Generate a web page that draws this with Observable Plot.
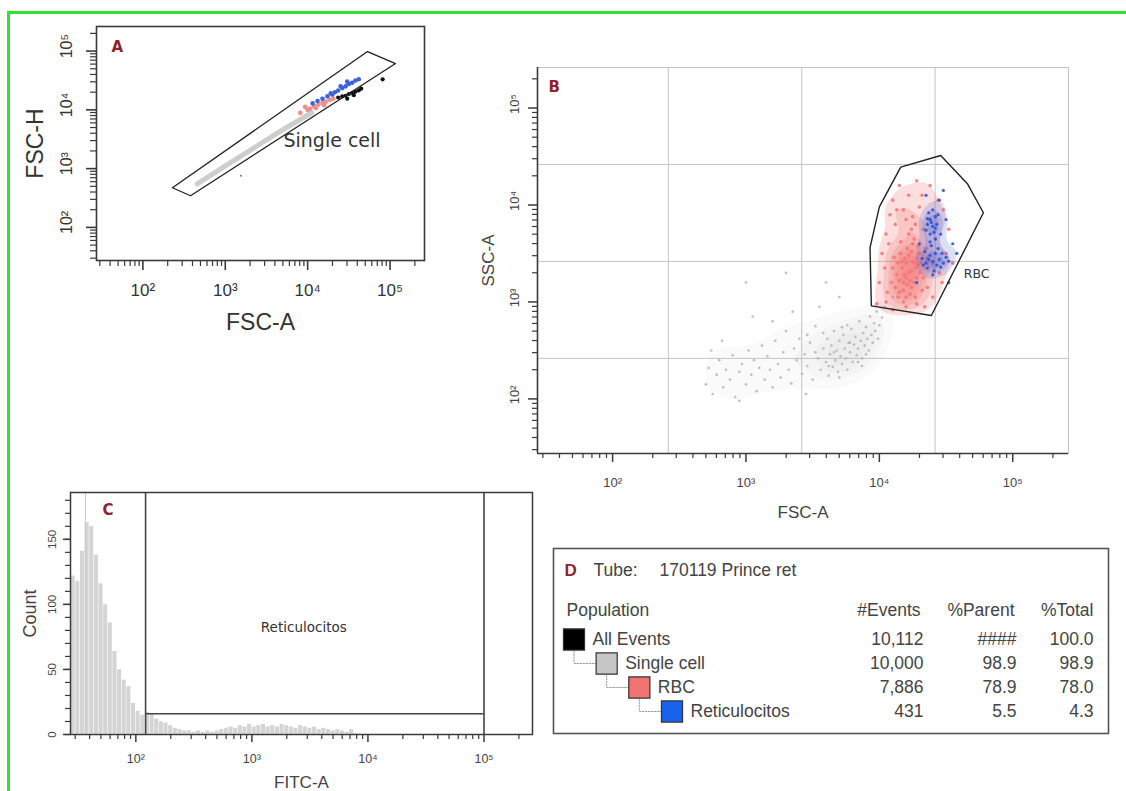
<!DOCTYPE html>
<html><head><meta charset="utf-8">
<script src="https://cdn.jsdelivr.net/npm/d3@7"></script>
<script src="https://cdn.jsdelivr.net/npm/@observablehq/plot@0.6"></script>
<style>
body{margin:0;background:#fff;}
#wrap{position:relative;width:1126px;height:791px;overflow:hidden;background:#fff;}
#wrap svg{position:absolute;left:0;top:0;}
#border{position:absolute;left:7px;top:11px;width:1200px;height:900px;border-left:3px solid #33e033;border-top:3px solid #33e033;}
</style></head><body><div id="wrap"><div id="border"></div></div>
<script>
// ---------- shared axis values (log10 units, FACS range up to 262143) ----------
const DOM = [1.437, 5.418];
const majorExp = [2, 3, 4, 5];
const gridB = [2.418, 3.418, 4.418];

// ---------- Panel A : FSC-A vs FSC-H (log10 values) ----------
const gateA = [[2.359,2.675],[2.578,2.539],[5.066,4.788],[4.726,4.992],[2.359,2.675]];
const bandA = [[2.66,2.74],[2.95,3.00],[3.30,3.31],[3.65,3.62],[3.95,3.87],[4.05,3.95]];
const redA = [[3.91,3.95],[3.97,4.05],[4.03,4.02],[4.08,4.06],[4.13,4.09],[4.18,4.12],[4.22,4.14],[4.27,4.17],[4.31,4.19],[4.00,4.00],[4.10,4.03],[4.20,4.08]];
const blueA = [[4.06,4.11],[4.12,4.15],[4.18,4.19],[4.24,4.23],[4.28,4.28],[4.33,4.30],[4.37,4.33],[4.42,4.37],[4.46,4.40],[4.50,4.44],[4.54,4.46],[4.58,4.50],[4.62,4.52],[4.40,4.40],[4.30,4.26],[4.48,4.48]];
const blackA = [[4.37,4.21],[4.42,4.23],[4.46,4.24],[4.50,4.27],[4.54,4.29],[4.58,4.31],[4.62,4.33],[4.65,4.36],[4.48,4.19],[4.56,4.25],[4.91,4.52]];
const strayA = [[3.19,2.88]];
const labelA = {text: "Single cell", x: 3.706, y: 3.476};

// ---------- Panel B : FSC-A vs SSC-A (log10 values) ----------
const gateB = [[4.16,4.39],[4.46,4.51],[4.66,4.22],[4.78,3.92],[4.39,2.86],[3.94,2.96],[3.93,3.56],[4.00,3.98],[4.16,4.39]];
const labelB = {text: "RBC", x: 4.633, y: 3.293};
const grayB = [
[2.70,2.15],[2.72,2.32],[2.75,2.05],[2.78,2.25],[2.80,2.40],[2.83,2.12],[2.85,2.30],[2.88,2.20],[2.90,2.45],[2.92,2.02],
[2.95,2.28],[2.97,2.36],[3.00,2.15],[3.02,2.50],[3.04,2.25],[3.06,2.40],[3.08,2.08],[3.10,2.32],[3.12,2.55],[3.14,2.20],
[3.16,2.44],[3.18,2.30],[3.20,2.12],[3.22,2.60],[3.24,2.36],[3.26,2.22],[3.28,2.48],[3.30,2.70],[3.32,2.30],[3.34,2.16],
[3.36,2.52],[3.38,2.40],[3.40,2.62],[3.42,2.26],[3.44,2.46],[3.46,2.34],[3.48,2.58],[3.50,2.20],[3.52,2.75],[3.54,2.42],
[3.56,2.30],[3.58,2.52],[3.60,2.38],[3.61,2.62],[3.62,2.24],[3.63,2.46],[3.64,2.55],[3.65,2.33],[3.66,2.70],[3.67,2.40],
[3.68,2.50],[3.69,2.28],[3.70,2.60],[3.71,2.44],[3.72,2.36],[3.73,2.66],[3.74,2.52],[3.75,2.42],[3.76,2.30],[3.77,2.58],
[3.78,2.48],[3.79,2.72],[3.80,2.38],[3.81,2.56],[3.82,2.64],[3.83,2.45],[3.84,2.52],[3.85,2.80],[3.86,2.60],[3.87,2.42],
[3.88,2.68],[3.89,2.55],[3.90,2.74],[3.91,2.62],[3.92,2.50],[3.93,2.85],[3.94,2.66],[3.95,2.58],[3.96,2.78],[3.97,2.70],
[3.98,2.90],[4.00,2.76],[4.02,2.84],[4.04,2.95],[3.99,2.62],[3.87,2.34],[3.76,2.76],[3.70,2.22],[3.58,2.68],[3.66,2.48],
[3.05,2.85],[3.35,2.90],[2.82,2.60],[3.45,2.05],[3.70,3.05],[3.20,2.80],[2.95,1.98],[4.10,3.05],[3.55,2.95],[2.74,2.50],
[3.00,3.20],[3.30,3.30],[3.60,3.20],[3.52,2.48],[3.62,2.34],[3.72,2.74],[3.78,2.58],[3.84,2.38],[3.90,2.46],[3.46,2.66]];
const redB = [
[4.15,3.10],[4.18,3.20],[4.20,3.05],[4.22,3.30],[4.24,3.15],[4.26,3.40],[4.28,3.25],[4.30,3.50],[4.17,3.35],[4.19,3.45],
[4.21,3.55],[4.23,3.22],[4.25,3.60],[4.27,3.05],[4.29,3.38],[4.13,3.28],[4.16,3.50],[4.20,3.40],[4.24,3.32],[4.28,3.45],
[4.12,3.15],[4.14,3.40],[4.18,3.00],[4.22,3.48],[4.26,3.20],[4.30,3.30],[4.32,3.12],[4.10,3.35],[4.20,3.25],[4.24,3.52],
[4.16,3.62],[4.22,3.70],[4.18,3.12],[4.26,3.65],[4.14,3.05],[4.28,2.98],[4.21,3.18],[4.19,3.28],[4.25,3.42],[4.23,3.08],
[4.17,3.42],[4.27,3.35],[4.15,3.22],[4.31,3.40],[4.11,3.46],[4.29,3.58],[4.09,3.20],[4.33,3.25],[4.20,2.95],[4.24,3.75],
[4.00,3.20],[4.02,3.50],[4.05,3.00],[4.05,3.70],[4.08,3.90],[4.10,4.05],[4.12,3.80],[4.15,4.20],[4.18,3.95],[4.22,4.10],
[4.25,3.88],[4.28,4.25],[4.30,3.98],[4.33,3.75],[4.35,3.55],[4.38,3.85],[4.40,3.40],[4.42,3.65],[4.45,3.30],[4.48,3.95],
[4.50,3.50],[4.36,3.15],[4.40,3.05],[4.34,2.95],[3.98,2.98],[4.04,3.35],[4.07,3.60],[4.10,2.92],[4.13,3.95],[4.20,3.85],
[4.27,3.80],[4.32,4.10],[4.38,4.20],[4.44,4.05],[4.52,3.75],[4.55,3.40],[4.47,3.20],[4.06,3.10],[4.36,3.45],[4.42,3.88]];
const blueB = [
[4.36,3.80],[4.38,3.85],[4.40,3.78],[4.42,3.88],[4.37,3.92],[4.41,3.72],[4.39,3.82],[4.43,3.80],[4.35,3.74],[4.40,3.95],
[4.38,3.70],[4.44,3.90],[4.36,3.86],[4.42,3.76],
[4.32,3.45],[4.35,3.40],[4.38,3.48],[4.40,3.42],[4.42,3.50],[4.45,3.44],[4.48,3.40],[4.50,3.46],[4.36,3.35],[4.41,3.32],
[4.44,3.55],[4.39,3.58],[4.46,3.36],[4.34,3.52],[4.43,3.38],[4.37,3.44],[4.47,3.50],[4.52,3.42],[4.40,3.28],[4.33,3.38],
[4.38,3.62],[4.42,3.65],[4.45,4.05],[4.50,3.85],[4.30,3.60],[4.55,3.60],[4.48,4.15],[4.35,4.10],[4.52,3.20],[4.28,3.20],
[4.46,3.70],[4.58,3.50]];

// ---------- Panel C : FITC-A histogram ----------
const fitcBinStart = 1.44, fitcBinWidth = 0.04;
const fitcCounts = [122,118,141,163,160,138,116,100,86,64,
  50,42,37,24,18,15,17,16,12,10,
  9,7,5,4,3,3,2,3,2,3,
  2,3,4,5,6,5,7,6,8,6,
  7,8,6,7,6,8,7,6,5,7,
  6,5,6,4,5,4,3,4,3,2,
  4,1,0,0];
const fitcSpike = [1.566];
const gateC = {lo: 2.084, hi: 5.0, level: 16, text: "Reticulocitos"};
const countTicks = [0, 50, 100, 150];

// ---------- Panel D : population table ----------
const popNames = ["All Events", "Single cell", "RBC", "Reticulocitos"];
const popDepth = [0, 1, 2, 3];
const popEvents = [10112, 10000, 7886, 431];
const popParent = [null, 98.9, 78.9, 5.5];
const popTotal = [100.0, 98.9, 78.0, 4.3];
const popColors = ["#000000", "#c6c6c6", "#f17372", "#1763ee"];

// ---------- helpers ----------
const W = 1126, H = 791;
const FONT = "'Liberation Sans', Arial, sans-serif";
const GFONT = "'DejaVu Sans', Verdana, sans-serif";
const AXC = "#3a3a3a", LABC = "#8b2332", TXT = "#444";
const sup = {2: "\u00b2", 3: "\u00b3", 4: "\u2074", 5: "\u2075"};
const pow10 = e => "10" + sup[e];
const minorLog = [];
for (let n = 1; n <= 5; n++) for (let k = 2; k <= 9; k++) {
  const v = n + Math.log10(k);
  if (v > DOM[0] && v < DOM[1]) minorLog.push(v);
}
const px = d => d[0], py = d => d[1];
function base(fr, extra) {
  return Object.assign({
    width: W, height: H,
    marginLeft: fr.l, marginRight: W - fr.r, marginTop: fr.t, marginBottom: H - fr.b,
    style: {background: "transparent", overflow: "visible"}
  }, extra);
}
// outward tick marks drawn through the panel's scales
function ticksX(fr, vals, L, sw) {
  return Plot.tickX(vals, {x: d => d, insetTop: (fr.b - fr.t) - L, dy: L, stroke: AXC, strokeWidth: sw});
}
function ticksY(fr, vals, L, sw) {
  return Plot.tickY(vals, {y: d => d, insetRight: (fr.r - fr.l) - L, dx: -L, stroke: AXC, strokeWidth: sw});
}
const T = (extra) => Object.assign({textAnchor: "middle", lineAnchor: "middle"}, extra);
const wrap = document.getElementById("wrap");

// ---------- Panel A ----------
const frA = {l: 96, r: 424, t: 26, b: 260};
const plotA = Plot.plot(base(frA, {
  x: {domain: DOM, axis: null}, y: {domain: DOM, axis: null},
  marks: [
    Plot.line(bandA, {x: px, y: py, stroke: "#cdcdcd", strokeWidth: 5, strokeLinecap: "round"}),
    Plot.dot(redA, {x: px, y: py, r: 2.4, fill: "#ef8f8c"}),
    Plot.dot(blueA, {x: px, y: py, r: 2.3, fill: "#3d63d6"}),
    Plot.dot(blackA, {x: px, y: py, r: 2.1, fill: "#111"}),
    Plot.dot(strayA, {x: px, y: py, r: 1, fill: "#777"}),
    Plot.line(gateA, {x: px, y: py, stroke: "#222", strokeWidth: 1.3}),
    Plot.text([labelA], {x: "x", y: "y", text: "text", textAnchor: "start", fontSize: 19, fontFamily: GFONT, fill: "#333"}),
    Plot.frame({stroke: AXC, strokeWidth: 1.6}),
    ticksX(frA, minorLog, 6, 1.2), ticksX(frA, majorExp, 10, 1.6),
    ticksY(frA, minorLog, 6, 1.2), ticksY(frA, majorExp, 10, 1.6),
    Plot.text(majorExp, T({x: d => d, text: pow10, frameAnchor: "bottom", dy: 30, fontSize: 17, fontFamily: FONT, fill: "#333"})),
    Plot.text(majorExp, T({y: d => d, text: pow10, frameAnchor: "left", dx: -30, dy: -5, rotate: -90, fontSize: 16, fontFamily: FONT, fill: "#333"})),
    Plot.text(["FSC-A"], T({text: d => d, frameAnchor: "bottom", dy: 62, fontSize: 23, fontFamily: FONT, fill: "#333"})),
    Plot.text(["FSC-H"], T({text: d => d, frameAnchor: "left", dx: -61, rotate: -90, fontSize: 23, fontFamily: FONT, fill: "#333"})),
    Plot.text(["A"], T({text: d => d, frameAnchor: "top-left", dx: 15, dy: 21, textAnchor: "start", fontSize: 15, fontWeight: "bold", fontFamily: GFONT, fill: LABC}))
  ]
}));
wrap.appendChild(plotA);

// ---------- Panel B ----------
const frB = {l: 537, r: 1068, t: 67, b: 453};
const plotB = Plot.plot(base(frB, {
  x: {domain: DOM, axis: null}, y: {domain: DOM, axis: null},
  marks: [
    Plot.ruleX(gridB, {stroke: "#c4c4c4", strokeWidth: 1}),
    Plot.ruleY(gridB, {stroke: "#c4c4c4", strokeWidth: 1}),
    Plot.frame({stroke: "#c4c4c4", strokeWidth: 1}),
    Plot.density(grayB, {x: px, y: py, bandwidth: 11, thresholds: 5, fill: "#c4c4c4", fillOpacity: 0.08, stroke: "none"}),
    Plot.dot(grayB, {x: px, y: py, r: 1.3, fill: "#b4b4b4", fillOpacity: 0.85}),
    Plot.density(redB, {x: px, y: py, bandwidth: 7, thresholds: 7, fill: "#f27473", fillOpacity: 0.24, stroke: "none"}),
    Plot.dot(redB, {x: px, y: py, r: 1.8, fill: "#f27473", fillOpacity: 0.85}),
    Plot.density(blueB, {x: px, y: py, bandwidth: 5, thresholds: 4, fill: "#2d52d6", fillOpacity: 0.18, stroke: "none"}),
    Plot.dot(blueB, {x: px, y: py, r: 1.6, fill: "#2d52d6", fillOpacity: 0.9}),
    Plot.line(gateB, {x: px, y: py, stroke: "#222", strokeWidth: 1.4}),
    Plot.text([labelB], {x: "x", y: "y", text: "text", textAnchor: "start", fontSize: 12.5, fontFamily: GFONT, fill: "#333"}),
    Plot.ruleX([DOM[0]], {stroke: AXC, strokeWidth: 1.6}),
    Plot.ruleY([DOM[0]], {stroke: AXC, strokeWidth: 1.6}),
    ticksX(frB, minorLog, 5, 1.2), ticksX(frB, majorExp, 9, 1.5),
    ticksY(frB, minorLog, 5, 1.2), ticksY(frB, majorExp, 9, 1.5),
    Plot.text(majorExp, T({x: d => d, text: pow10, frameAnchor: "bottom", dy: 29, fontSize: 13, fontFamily: FONT, fill: TXT})),
    Plot.text(majorExp, T({y: d => d, text: pow10, frameAnchor: "left", dx: -23, dy: -4, rotate: -90, fontSize: 13, fontFamily: FONT, fill: TXT})),
    Plot.text(["FSC-A"], T({text: d => d, frameAnchor: "bottom", dy: 59, fontSize: 17, fontFamily: FONT, fill: TXT})),
    Plot.text(["SSC-A"], T({text: d => d, frameAnchor: "left", dx: -49, rotate: -90, fontSize: 17, fontFamily: FONT, fill: TXT})),
    Plot.text(["B"], T({text: d => d, frameAnchor: "top-left", dx: 11, dy: 20, textAnchor: "start", fontSize: 15, fontWeight: "bold", fontFamily: GFONT, fill: LABC}))
  ]
}));
wrap.appendChild(plotB);

// ---------- Panel C ----------
const frC = {l: 70, r: 532, t: 492, b: 734};
const binsC = fitcCounts.map((c, i) => ({x1: fitcBinStart + i * fitcBinWidth, x2: fitcBinStart + (i + 1) * fitcBinWidth, count: c}));
const countMinor = d3.range(0, 190, 10);
const plotC = Plot.plot(base(frC, {
  x: {domain: DOM, axis: null}, y: {domain: [0, 186], axis: null},
  marks: [
    Plot.rectY(binsC, {x1: "x1", x2: "x2", y: "count", fill: "#d4d4d4", inset: 0.3}),
    Plot.ruleX(fitcSpike, {stroke: "#c9c9c9", strokeWidth: 1}),
    Plot.ruleX([gateC.lo, gateC.hi], {stroke: "#444", strokeWidth: 1.6}),
    Plot.ruleY([gateC.level], {x1: gateC.lo, x2: gateC.hi, stroke: "#444", strokeWidth: 1.6}),
    Plot.text([gateC], T({x: d => (d.lo + d.hi) / 2, text: "text", frameAnchor: "middle", dx: -11, dy: 14, fontSize: 13.5, fontFamily: GFONT, fill: "#333"})),
    Plot.frame({stroke: AXC, strokeWidth: 1.5}),
    ticksX(frC, minorLog, 5, 1.2), ticksX(frC, majorExp, 8, 1.5),
    ticksY(frC, countMinor, 5, 1.2), ticksY(frC, countTicks, 7, 1.5),
    Plot.text(majorExp, T({x: d => d, text: pow10, frameAnchor: "bottom", dy: 24, fontSize: 12.5, fontFamily: FONT, fill: TXT})),
    Plot.text(countTicks, T({y: d => d, text: d => String(d), frameAnchor: "left", dx: -18, rotate: -90, fontSize: 11.5, fontFamily: FONT, fill: TXT})),
    Plot.text(["FITC-A"], T({text: d => d, frameAnchor: "bottom", dy: 48, fontSize: 17, fontFamily: FONT, fill: TXT})),
    Plot.text(["Count"], T({text: d => d, frameAnchor: "left", dx: -40, rotate: -90, fontSize: 18, fontFamily: FONT, fill: TXT})),
    Plot.text(["C"], T({text: d => d, frameAnchor: "top-left", dx: 32, dy: 18, textAnchor: "start", fontSize: 15, fontWeight: "bold", fontFamily: GFONT, fill: LABC}))
  ]
}));
wrap.appendChild(plotC);

// ---------- Panel D ----------
const pops = popNames.map((name, i) => ({
  name, depth: popDepth[i], color: popColors[i],
  events: d3.format(",")(popEvents[i]),
  parent: popParent[i] == null ? "####" : popParent[i].toFixed(1),
  total: popTotal[i].toFixed(1)
}));
const connectors = [];
pops.forEach((p, i) => {
  if (i === 0) return;
  const par = pops[i - 1];
  connectors.push({k: i, x: par.depth, y: par.name}, {k: i, x: par.depth, y: p.name}, {k: i, x: p.depth, y: p.name});
});
const DF = FONT, DS = 17.5;
const plotD = Plot.plot(base({l: 553, r: 1093, t: 548, b: 733}, {
  x: {domain: [0, 3], range: [573.5, 671.5], axis: null},
  y: {type: "point", domain: popNames, range: [638, 712], padding: 0, axis: null},
  color: {type: "identity"},
  marks: [
    Plot.frame({stroke: "#555", strokeWidth: 1.6, insetRight: -15}),
    Plot.text(["D"], T({text: d => d, frameAnchor: "top-left", dx: 11, dy: 22, textAnchor: "start", fontSize: 17, fontWeight: "bold", fontFamily: FONT, fill: LABC})),
    Plot.text(["Tube:"], T({text: d => d, frameAnchor: "top-left", dx: 40, dy: 22, textAnchor: "start", fontSize: DS, fontFamily: DF, fill: TXT})),
    Plot.text(["170119 Prince ret"], T({text: d => d, frameAnchor: "top-left", dx: 106, dy: 22, textAnchor: "start", fontSize: DS, fontFamily: DF, fill: TXT})),
    Plot.text(["Population"], T({text: d => d, frameAnchor: "top-left", dx: 13, dy: 62, textAnchor: "start", fontSize: DS, fontFamily: DF, fill: TXT})),
    Plot.text(["#Events"], T({text: d => d, frameAnchor: "top-right", dx: -173, dy: 62, textAnchor: "end", fontSize: DS, fontFamily: DF, fill: TXT})),
    Plot.text(["%Parent"], T({text: d => d, frameAnchor: "top-right", dx: -79, dy: 62, textAnchor: "end", fontSize: DS, fontFamily: DF, fill: TXT})),
    Plot.text(["%Total"], T({text: d => d, frameAnchor: "top-right", dx: 0, dy: 62, textAnchor: "end", fontSize: DS, fontFamily: DF, fill: TXT})),
    Plot.line(connectors, {x: "x", y: "y", z: "k", stroke: "#9a9a9a", strokeWidth: 1, strokeDasharray: "1.5,1.5"}),
    Plot.dot(pops, {x: "depth", y: "name", symbol: "square", r: 11.9, fill: "color", stroke: "#333", strokeWidth: 1.2}),
    Plot.text(pops, T({x: "depth", y: "name", text: "name", dx: 18.5, textAnchor: "start", fontSize: DS, fontFamily: DF, fill: TXT})),
    Plot.text(pops, T({y: "name", text: "events", frameAnchor: "right", dx: -170, textAnchor: "end", fontSize: DS, fontFamily: DF, fill: TXT})),
    Plot.text(pops, T({y: "name", text: "parent", frameAnchor: "right", dx: -77, textAnchor: "end", fontSize: DS, fontFamily: DF, fill: TXT})),
    Plot.text(pops, T({y: "name", text: "total", frameAnchor: "right", dx: 0, textAnchor: "end", fontSize: DS, fontFamily: DF, fill: TXT}))
  ]
}));
wrap.appendChild(plotD);
</script>
</body></html>
